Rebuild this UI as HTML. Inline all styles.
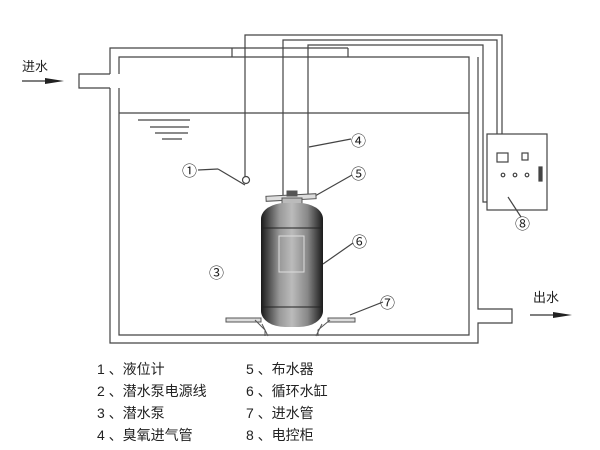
<!DOCTYPE html>
<html><head><meta charset="utf-8"><style>
html,body{margin:0;padding:0;background:#fff;width:600px;height:450px;overflow:hidden}
text{font-family:"Liberation Sans","Noto Sans CJK SC",sans-serif;fill:#222}
</style></head><body>
<svg width="600" height="450" viewBox="0 0 600 450" xmlns="http://www.w3.org/2000/svg">
<defs>
<linearGradient id="g" x1="0" x2="1" y1="0" y2="0">
<stop offset="0" stop-color="#1a1a1a"/><stop offset="0.3" stop-color="#999"/><stop offset="0.5" stop-color="#bbb"/><stop offset="0.75" stop-color="#888"/><stop offset="1" stop-color="#1a1a1a"/>
</linearGradient>
</defs>
<g fill="none" stroke="#444" stroke-width="1.2">
<polyline points="110,74 110,48 348,48"/>
<polyline points="110,88 110,343 478,343 478,323 512,323 512,309 478,309 478,57"/>
<line x1="348" y1="48" x2="348" y2="57"/>
<line x1="232" y1="48" x2="232" y2="57"/>
<polyline points="110,74 79,74 79,88 110,88"/>
<polyline points="119,74 119,57 469,57 469,335 119,335 119,88"/>
<line x1="119" y1="113" x2="469" y2="113"/>
<line x1="138" y1="120" x2="190" y2="120"/>
<line x1="150" y1="127" x2="189" y2="127"/>
<line x1="155" y1="133" x2="188" y2="133"/>
<line x1="162" y1="139" x2="182" y2="139"/>
<polyline points="245,177 245,35 502,35 502,134"/>
<polyline points="283,195 283,40 497,40 497,134"/>
<polyline points="308,195 308,45 483,45 483,202 487,202"/>
<line x1="198" y1="170" x2="218" y2="169"/>
<line x1="218" y1="169" x2="245" y2="185"/>
<circle cx="246" cy="180" r="3.5" fill="#fff"/>
<rect x="487" y="134" width="60" height="76" fill="#fff"/>
<rect x="497" y="153" width="11" height="9"/>
<rect x="522" y="153" width="6" height="7"/>
<circle cx="503" cy="175" r="1.8"/><circle cx="515" cy="175" r="1.8"/><circle cx="527" cy="175" r="1.8"/>
<rect x="539" y="167" width="3" height="14" fill="#444"/>
<line x1="309" y1="147" x2="351" y2="139"/>
<line x1="315" y1="196" x2="352" y2="175"/>
<line x1="323" y1="264" x2="353" y2="243"/>
<line x1="350" y1="315" x2="383" y2="302"/>
<line x1="508" y1="197" x2="521" y2="217"/>
</g>
<g stroke="#555" fill="#ddd" stroke-width="1">
<rect x="266" y="195" width="50" height="5" transform="rotate(-3 291 197)"/>
<rect x="282" y="198" width="20" height="8" fill="#bbb"/>
<rect x="287" y="191" width="10" height="5" fill="#555"/>
</g>
<rect x="261" y="203" width="62" height="124" rx="24" ry="16" fill="url(#g)"/>
<line x1="262" y1="228" x2="322" y2="228" stroke="#222"/>
<line x1="262" y1="307" x2="322" y2="307" stroke="#222"/>
<rect x="279" y="236" width="25" height="36" fill="none" stroke="#ddd"/>
<g stroke="#555" fill="#ddd" stroke-width="1">
<rect x="226" y="318" width="35" height="4"/>
<rect x="328" y="318" width="27" height="4"/>
<polyline points="255,320 265,330 265,336" fill="none"/>
<polyline points="330,320 318,330 318,336" fill="none"/>
<polyline points="262,324 268,336" fill="none"/>
<polyline points="322,324 316,336" fill="none"/>
</g>
<line x1="22" y1="81" x2="50" y2="81" stroke="#333" stroke-width="1.2"/>
<polygon points="45,78 64,81 45,84" fill="#222"/>
<line x1="530" y1="315" x2="556" y2="315" stroke="#333" stroke-width="1.2"/>
<polygon points="553,312 572,315 553,318" fill="#222"/>
<text x="22" y="71" font-size="13">进水</text>
<text x="533" y="302" font-size="13">出水</text>
<g font-size="15">
<text x="182" y="176">①</text>
<text x="209" y="278">③</text>
<text x="351" y="146">④</text>
<text x="351" y="179">⑤</text>
<text x="352" y="247">⑥</text>
<text x="380" y="308">⑦</text>
<text x="515" y="229">⑧</text>
</g>
<g font-size="14">
<text x="97" y="374">1 、液位计</text>
<text x="97" y="396">2 、潜水泵电源线</text>
<text x="97" y="418">3 、潜水泵</text>
<text x="97" y="440">4 、臭氧进气管</text>
<text x="246" y="374">5 、布水器</text>
<text x="246" y="396">6 、循环水缸</text>
<text x="246" y="418">7 、进水管</text>
<text x="246" y="440">8 、电控柜</text>
</g>
</svg>
</body></html>
